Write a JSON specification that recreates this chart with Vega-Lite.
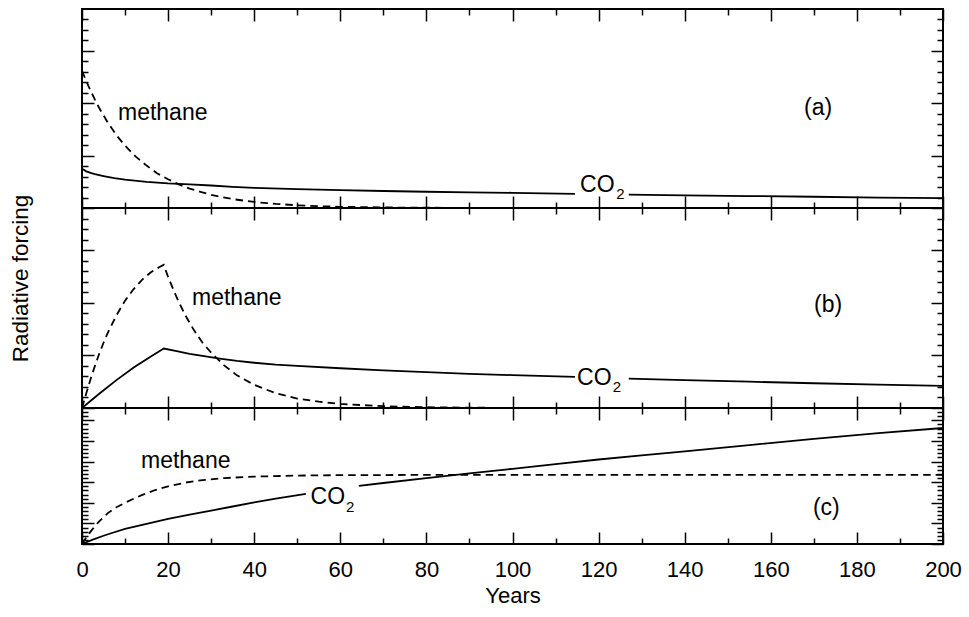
{
  "$schema": "https://vega.github.io/schema/vega-lite/v6.json",
  "background": "white",
  "padding": {"left": 8, "top": 7, "right": 4, "bottom": 4},
  "spacing": 0,
  "bounds": "flush",
  "config": {
    "view": {"stroke": "black", "strokeWidth": 2},
    "font": "Liberation Sans",
    "axis": {"domain": false, "grid": false, "tickColor": "black", "tickWidth": 1.5, "labelFont": "Liberation Sans", "labelFontSize": 22, "labelColor": "black", "titleFont": "Liberation Sans", "titleFontSize": 22, "titleFontWeight": "normal", "titleColor": "black", "labelFlush": false, "labelOverlap": false},
    "text": {"font": "Liberation Sans", "fill": "black"},
    "line": {"stroke": "black", "strokeWidth": 1.8}
  },
  "datasets": {
    "series": [
      {"panel":"a","gas":"methane","seg":1,"year":0,"value":2.62},
      {"panel":"a","gas":"methane","seg":1,"year":1,"value":2.42},
      {"panel":"a","gas":"methane","seg":1,"year":2,"value":2.24},
      {"panel":"a","gas":"methane","seg":1,"year":3,"value":2.07},
      {"panel":"a","gas":"methane","seg":1,"year":4,"value":1.91},
      {"panel":"a","gas":"methane","seg":1,"year":5,"value":1.77},
      {"panel":"a","gas":"methane","seg":1,"year":6,"value":1.63},
      {"panel":"a","gas":"methane","seg":1,"year":8,"value":1.39},
      {"panel":"a","gas":"methane","seg":1,"year":10,"value":1.19},
      {"panel":"a","gas":"methane","seg":1,"year":12.5,"value":0.98},
      {"panel":"a","gas":"methane","seg":1,"year":15,"value":0.81},
      {"panel":"a","gas":"methane","seg":1,"year":17.5,"value":0.66},
      {"panel":"a","gas":"methane","seg":1,"year":20,"value":0.55},
      {"panel":"a","gas":"methane","seg":1,"year":22.5,"value":0.45},
      {"panel":"a","gas":"methane","seg":1,"year":25,"value":0.37},
      {"panel":"a","gas":"methane","seg":1,"year":27.5,"value":0.31},
      {"panel":"a","gas":"methane","seg":1,"year":30,"value":0.25},
      {"panel":"a","gas":"methane","seg":1,"year":35,"value":0.17},
      {"panel":"a","gas":"methane","seg":1,"year":40,"value":0.115},
      {"panel":"a","gas":"methane","seg":1,"year":45,"value":0.078},
      {"panel":"a","gas":"methane","seg":1,"year":50,"value":0.052},
      {"panel":"a","gas":"methane","seg":1,"year":55,"value":0.035},
      {"panel":"a","gas":"methane","seg":1,"year":60,"value":0.023},
      {"panel":"a","gas":"methane","seg":1,"year":70,"value":0.011},
      {"panel":"a","gas":"methane","seg":1,"year":80,"value":0.005},
      {"panel":"a","gas":"methane","seg":1,"year":100,"value":0.001},
      {"panel":"a","gas":"methane","seg":1,"year":150,"value":0},
      {"panel":"a","gas":"methane","seg":1,"year":200,"value":0},
      {"panel":"a","gas":"CO2","seg":1,"year":0,"value":0.75},
      {"panel":"a","gas":"CO2","seg":1,"year":1,"value":0.7},
      {"panel":"a","gas":"CO2","seg":1,"year":2,"value":0.67},
      {"panel":"a","gas":"CO2","seg":1,"year":3,"value":0.645},
      {"panel":"a","gas":"CO2","seg":1,"year":5,"value":0.61},
      {"panel":"a","gas":"CO2","seg":1,"year":7.5,"value":0.57},
      {"panel":"a","gas":"CO2","seg":1,"year":10,"value":0.54},
      {"panel":"a","gas":"CO2","seg":1,"year":15,"value":0.5},
      {"panel":"a","gas":"CO2","seg":1,"year":20,"value":0.47},
      {"panel":"a","gas":"CO2","seg":1,"year":25,"value":0.45},
      {"panel":"a","gas":"CO2","seg":1,"year":30,"value":0.43},
      {"panel":"a","gas":"CO2","seg":1,"year":35,"value":0.405},
      {"panel":"a","gas":"CO2","seg":1,"year":40,"value":0.385},
      {"panel":"a","gas":"CO2","seg":1,"year":50,"value":0.36},
      {"panel":"a","gas":"CO2","seg":1,"year":60,"value":0.34},
      {"panel":"a","gas":"CO2","seg":1,"year":70,"value":0.325},
      {"panel":"a","gas":"CO2","seg":1,"year":80,"value":0.31},
      {"panel":"a","gas":"CO2","seg":1,"year":90,"value":0.3},
      {"panel":"a","gas":"CO2","seg":1,"year":100,"value":0.29},
      {"panel":"a","gas":"CO2","seg":1,"year":114.5,"value":0.27},
      {"panel":"a","gas":"CO2","seg":2,"year":127,"value":0.255},
      {"panel":"a","gas":"CO2","seg":2,"year":140,"value":0.24},
      {"panel":"a","gas":"CO2","seg":2,"year":155,"value":0.228},
      {"panel":"a","gas":"CO2","seg":2,"year":170,"value":0.215},
      {"panel":"a","gas":"CO2","seg":2,"year":185,"value":0.2},
      {"panel":"a","gas":"CO2","seg":2,"year":200,"value":0.19},
      {"panel":"b","gas":"methane","seg":1,"year":0,"value":0},
      {"panel":"b","gas":"methane","seg":1,"year":1,"value":0.28},
      {"panel":"b","gas":"methane","seg":1,"year":2,"value":0.55},
      {"panel":"b","gas":"methane","seg":1,"year":3,"value":0.8},
      {"panel":"b","gas":"methane","seg":1,"year":4,"value":1.03},
      {"panel":"b","gas":"methane","seg":1,"year":5,"value":1.24},
      {"panel":"b","gas":"methane","seg":1,"year":6,"value":1.43},
      {"panel":"b","gas":"methane","seg":1,"year":8,"value":1.76},
      {"panel":"b","gas":"methane","seg":1,"year":10,"value":2.04},
      {"panel":"b","gas":"methane","seg":1,"year":12,"value":2.26},
      {"panel":"b","gas":"methane","seg":1,"year":14,"value":2.44},
      {"panel":"b","gas":"methane","seg":1,"year":16,"value":2.58},
      {"panel":"b","gas":"methane","seg":1,"year":18,"value":2.68},
      {"panel":"b","gas":"methane","seg":1,"year":19,"value":2.72},
      {"panel":"b","gas":"methane","seg":1,"year":20,"value":2.49},
      {"panel":"b","gas":"methane","seg":1,"year":22,"value":2.1},
      {"panel":"b","gas":"methane","seg":1,"year":24,"value":1.76},
      {"panel":"b","gas":"methane","seg":1,"year":26,"value":1.48},
      {"panel":"b","gas":"methane","seg":1,"year":28,"value":1.24},
      {"panel":"b","gas":"methane","seg":1,"year":30,"value":1.05},
      {"panel":"b","gas":"methane","seg":1,"year":33,"value":0.81},
      {"panel":"b","gas":"methane","seg":1,"year":36,"value":0.62},
      {"panel":"b","gas":"methane","seg":1,"year":40,"value":0.44},
      {"panel":"b","gas":"methane","seg":1,"year":45,"value":0.28},
      {"panel":"b","gas":"methane","seg":1,"year":50,"value":0.18},
      {"panel":"b","gas":"methane","seg":1,"year":55,"value":0.12},
      {"panel":"b","gas":"methane","seg":1,"year":60,"value":0.077},
      {"panel":"b","gas":"methane","seg":1,"year":70,"value":0.034},
      {"panel":"b","gas":"methane","seg":1,"year":80,"value":0.014},
      {"panel":"b","gas":"methane","seg":1,"year":90,"value":0.006},
      {"panel":"b","gas":"methane","seg":1,"year":100,"value":0.002},
      {"panel":"b","gas":"methane","seg":1,"year":120,"value":0},
      {"panel":"b","gas":"methane","seg":1,"year":200,"value":0},
      {"panel":"b","gas":"CO2","seg":1,"year":0,"value":0},
      {"panel":"b","gas":"CO2","seg":1,"year":4,"value":0.27},
      {"panel":"b","gas":"CO2","seg":1,"year":8,"value":0.53},
      {"panel":"b","gas":"CO2","seg":1,"year":12,"value":0.77},
      {"panel":"b","gas":"CO2","seg":1,"year":16,"value":0.98},
      {"panel":"b","gas":"CO2","seg":1,"year":19,"value":1.13},
      {"panel":"b","gas":"CO2","seg":1,"year":22,"value":1.08},
      {"panel":"b","gas":"CO2","seg":1,"year":25,"value":1.03},
      {"panel":"b","gas":"CO2","seg":1,"year":28,"value":0.99},
      {"panel":"b","gas":"CO2","seg":1,"year":32,"value":0.94},
      {"panel":"b","gas":"CO2","seg":1,"year":36,"value":0.895},
      {"panel":"b","gas":"CO2","seg":1,"year":40,"value":0.86},
      {"panel":"b","gas":"CO2","seg":1,"year":45,"value":0.825},
      {"panel":"b","gas":"CO2","seg":1,"year":50,"value":0.8},
      {"panel":"b","gas":"CO2","seg":1,"year":60,"value":0.755},
      {"panel":"b","gas":"CO2","seg":1,"year":70,"value":0.715},
      {"panel":"b","gas":"CO2","seg":1,"year":80,"value":0.68},
      {"panel":"b","gas":"CO2","seg":1,"year":90,"value":0.65},
      {"panel":"b","gas":"CO2","seg":1,"year":100,"value":0.625},
      {"panel":"b","gas":"CO2","seg":1,"year":114.5,"value":0.59},
      {"panel":"b","gas":"CO2","seg":2,"year":127,"value":0.56},
      {"panel":"b","gas":"CO2","seg":2,"year":140,"value":0.53},
      {"panel":"b","gas":"CO2","seg":2,"year":155,"value":0.5},
      {"panel":"b","gas":"CO2","seg":2,"year":170,"value":0.47},
      {"panel":"b","gas":"CO2","seg":2,"year":185,"value":0.445},
      {"panel":"b","gas":"CO2","seg":2,"year":200,"value":0.42},
      {"panel":"c","gas":"methane","seg":1,"year":0,"value":0},
      {"panel":"c","gas":"methane","seg":1,"year":1,"value":0.32},
      {"panel":"c","gas":"methane","seg":1,"year":2,"value":0.6},
      {"panel":"c","gas":"methane","seg":1,"year":3,"value":0.87},
      {"panel":"c","gas":"methane","seg":1,"year":4,"value":1.1},
      {"panel":"c","gas":"methane","seg":1,"year":6,"value":1.5},
      {"panel":"c","gas":"methane","seg":1,"year":8,"value":1.78},
      {"panel":"c","gas":"methane","seg":1,"year":10,"value":2.0},
      {"panel":"c","gas":"methane","seg":1,"year":12,"value":2.2},
      {"panel":"c","gas":"methane","seg":1,"year":14,"value":2.38},
      {"panel":"c","gas":"methane","seg":1,"year":17,"value":2.62},
      {"panel":"c","gas":"methane","seg":1,"year":20,"value":2.8},
      {"panel":"c","gas":"methane","seg":1,"year":24,"value":2.98},
      {"panel":"c","gas":"methane","seg":1,"year":28,"value":3.1},
      {"panel":"c","gas":"methane","seg":1,"year":33,"value":3.2},
      {"panel":"c","gas":"methane","seg":1,"year":40,"value":3.27},
      {"panel":"c","gas":"methane","seg":1,"year":50,"value":3.32},
      {"panel":"c","gas":"methane","seg":1,"year":60,"value":3.34},
      {"panel":"c","gas":"methane","seg":1,"year":75,"value":3.35},
      {"panel":"c","gas":"methane","seg":1,"year":200,"value":3.35},
      {"panel":"c","gas":"CO2","seg":1,"year":0,"value":0},
      {"panel":"c","gas":"CO2","seg":1,"year":2.5,"value":0.21},
      {"panel":"c","gas":"CO2","seg":1,"year":5,"value":0.4},
      {"panel":"c","gas":"CO2","seg":1,"year":7.5,"value":0.57},
      {"panel":"c","gas":"CO2","seg":1,"year":10,"value":0.73},
      {"panel":"c","gas":"CO2","seg":1,"year":15,"value":0.98},
      {"panel":"c","gas":"CO2","seg":1,"year":20,"value":1.22},
      {"panel":"c","gas":"CO2","seg":1,"year":25,"value":1.42},
      {"panel":"c","gas":"CO2","seg":1,"year":30,"value":1.62},
      {"panel":"c","gas":"CO2","seg":1,"year":35,"value":1.82},
      {"panel":"c","gas":"CO2","seg":1,"year":40,"value":2.02},
      {"panel":"c","gas":"CO2","seg":1,"year":45,"value":2.2},
      {"panel":"c","gas":"CO2","seg":1,"year":52,"value":2.43},
      {"panel":"c","gas":"CO2","seg":2,"year":64.3,"value":2.82},
      {"panel":"c","gas":"CO2","seg":2,"year":70,"value":2.96},
      {"panel":"c","gas":"CO2","seg":2,"year":80,"value":3.2},
      {"panel":"c","gas":"CO2","seg":2,"year":90,"value":3.43},
      {"panel":"c","gas":"CO2","seg":2,"year":100,"value":3.65},
      {"panel":"c","gas":"CO2","seg":2,"year":110,"value":3.88},
      {"panel":"c","gas":"CO2","seg":2,"year":120,"value":4.1},
      {"panel":"c","gas":"CO2","seg":2,"year":130,"value":4.3},
      {"panel":"c","gas":"CO2","seg":2,"year":140,"value":4.5},
      {"panel":"c","gas":"CO2","seg":2,"year":155,"value":4.8},
      {"panel":"c","gas":"CO2","seg":2,"year":170,"value":5.1},
      {"panel":"c","gas":"CO2","seg":2,"year":185,"value":5.38},
      {"panel":"c","gas":"CO2","seg":2,"year":200,"value":5.63}
    ],
    "labels": [
      {"panel":"a","kind":"methane","text":"methane","year":8.36,"value":1.68},
      {"panel":"a","kind":"co","text":"CO","year":115.7,"value":0.306},
      {"panel":"a","kind":"sub","text":"2","year":124.1,"value":0.172},
      {"panel":"a","kind":"letter","text":"(a)","year":171,"value":1.77},
      {"panel":"b","kind":"methane","text":"methane","year":25.55,"value":1.95},
      {"panel":"b","kind":"co","text":"CO","year":115,"value":0.44},
      {"panel":"b","kind":"sub","text":"2","year":123.3,"value":0.31},
      {"panel":"b","kind":"letter","text":"(b)","year":173.3,"value":1.82},
      {"panel":"c","kind":"methane","text":"methane","year":13.7,"value":3.69},
      {"panel":"c","kind":"co","text":"CO","year":53.1,"value":1.94},
      {"panel":"c","kind":"sub","text":"2","year":61.3,"value":1.55},
      {"panel":"c","kind":"letter","text":"(c)","year":172.9,"value":1.43}
    ]
  },
  "vconcat": [
    {
      "width": 861, "height": 199,
      "resolve": {"axis": {"x": "independent", "y": "independent"}},
      "layer": [
        {
          "data": {"name": "series"},
          "transform": [{"filter": "datum.panel === 'a' && datum.gas === 'methane'"}],
          "mark": {"type": "line", "strokeDash": [7.5, 5]},
          "encoding": {
            "x": {"field": "year", "type": "quantitative", "scale": {"domain": [0, 200], "nice": false, "zero": false}, "axis": {"orient": "bottom", "values": [0,20,40,60,80,100,120,140,160,180,200], "tickSize": -12, "labels": false, "title": null}},
            "y": {"field": "value", "type": "quantitative", "scale": {"domain": [0, 3.8], "nice": false, "zero": false}, "axis": {"orient": "left", "values": [0,1,2,3], "tickSize": -12, "labels": false, "title": null}}
          }
        },
        {
          "data": {"name": "series"},
          "transform": [{"filter": "datum.panel === 'a' && datum.gas === 'CO2'"}],
          "mark": {"type": "line"},
          "encoding": {
            "x": {"field": "year", "type": "quantitative", "scale": {"domain": [0, 200], "nice": false, "zero": false}, "axis": {"orient": "bottom", "values": [10,30,50,70,90,110,130,150,170,190], "tickSize": -6, "labels": false, "title": null}},
            "y": {"field": "value", "type": "quantitative", "scale": {"domain": [0, 3.8], "nice": false, "zero": false}, "axis": {"orient": "left", "values": [0.2,0.4,0.6,0.8,1.2,1.4,1.6,1.8,2.2,2.4,2.6,2.8,3.2,3.4,3.6], "tickSize": -6, "labels": false, "title": null}},
            "detail": {"field": "seg", "type": "nominal"}
          }
        },
        {
          "data": {"name": "labels"},
          "transform": [{"filter": "datum.panel === 'a' && datum.kind === 'methane'"}],
          "mark": {"type": "text", "align": "left", "baseline": "alphabetic", "fontSize": 23},
          "encoding": {
            "x": {"field": "year", "type": "quantitative", "scale": {"domain": [0, 200], "nice": false, "zero": false}, "axis": {"orient": "top", "values": [0,20,40,60,80,100,120,140,160,180,200], "tickSize": -12, "labels": false, "title": null}},
            "y": {"field": "value", "type": "quantitative", "scale": {"domain": [0, 3.8], "nice": false, "zero": false}, "axis": {"orient": "right", "values": [0,1,2,3], "tickSize": -12, "labels": false, "title": null}},
            "text": {"field": "text"}
          }
        },
        {
          "data": {"name": "labels"},
          "transform": [{"filter": "datum.panel === 'a' && datum.kind === 'co'"}],
          "mark": {"type": "text", "align": "left", "baseline": "alphabetic", "fontSize": 23},
          "encoding": {
            "x": {"field": "year", "type": "quantitative", "scale": {"domain": [0, 200], "nice": false, "zero": false}, "axis": {"orient": "top", "values": [10,30,50,70,90,110,130,150,170,190], "tickSize": -6, "labels": false, "title": null}},
            "y": {"field": "value", "type": "quantitative", "scale": {"domain": [0, 3.8], "nice": false, "zero": false}, "axis": {"orient": "right", "values": [0.2,0.4,0.6,0.8,1.2,1.4,1.6,1.8,2.2,2.4,2.6,2.8,3.2,3.4,3.6], "tickSize": -6, "labels": false, "title": null}},
            "text": {"field": "text"}
          }
        },
        {
          "data": {"name": "labels"},
          "transform": [{"filter": "datum.panel === 'a' && datum.kind === 'sub'"}],
          "mark": {"type": "text", "align": "left", "baseline": "alphabetic", "fontSize": 15},
          "encoding": {
            "x": {"field": "year", "type": "quantitative", "scale": {"domain": [0, 200], "nice": false, "zero": false}, "axis": null},
            "y": {"field": "value", "type": "quantitative", "scale": {"domain": [0, 3.8], "nice": false, "zero": false}, "axis": null},
            "text": {"field": "text"}
          }
        },
        {
          "data": {"name": "labels"},
          "transform": [{"filter": "datum.panel === 'a' && datum.kind === 'letter'"}],
          "mark": {"type": "text", "align": "center", "baseline": "alphabetic", "fontSize": 23},
          "encoding": {
            "x": {"field": "year", "type": "quantitative", "scale": {"domain": [0, 200], "nice": false, "zero": false}, "axis": null},
            "y": {"field": "value", "type": "quantitative", "scale": {"domain": [0, 3.8], "nice": false, "zero": false}, "axis": null},
            "text": {"field": "text"}
          }
        }
      ]
    },
    {
      "width": 861, "height": 200,
      "resolve": {"axis": {"x": "independent", "y": "independent"}},
      "layer": [
        {
          "data": {"name": "series"},
          "transform": [{"filter": "datum.panel === 'b' && datum.gas === 'methane'"}],
          "mark": {"type": "line", "strokeDash": [7.5, 5]},
          "encoding": {
            "x": {"field": "year", "type": "quantitative", "scale": {"domain": [0, 200], "nice": false, "zero": false}, "axis": {"orient": "bottom", "values": [0,20,40,60,80,100,120,140,160,180,200], "tickSize": -12, "labels": false, "title": null}},
            "y": {"field": "value", "type": "quantitative", "scale": {"domain": [0, 3.8], "nice": false, "zero": false}, "axis": {"orient": "left", "values": [0,1,2,3], "tickSize": -12, "labels": false, "title": "Radiative forcing", "titleX": -55, "titleY": 70, "titleAngle": 270, "titleBaseline": "alphabetic", "titleAlign": "center", "titleFontSize": 22.5}}
          }
        },
        {
          "data": {"name": "series"},
          "transform": [{"filter": "datum.panel === 'b' && datum.gas === 'CO2'"}],
          "mark": {"type": "line"},
          "encoding": {
            "x": {"field": "year", "type": "quantitative", "scale": {"domain": [0, 200], "nice": false, "zero": false}, "axis": {"orient": "bottom", "values": [10,30,50,70,90,110,130,150,170,190], "tickSize": -6, "labels": false, "title": null}},
            "y": {"field": "value", "type": "quantitative", "scale": {"domain": [0, 3.8], "nice": false, "zero": false}, "axis": {"orient": "left", "values": [0.2,0.4,0.6,0.8,1.2,1.4,1.6,1.8,2.2,2.4,2.6,2.8,3.2,3.4,3.6], "tickSize": -6, "labels": false, "title": null}},
            "detail": {"field": "seg", "type": "nominal"}
          }
        },
        {
          "data": {"name": "labels"},
          "transform": [{"filter": "datum.panel === 'b' && datum.kind === 'methane'"}],
          "mark": {"type": "text", "align": "left", "baseline": "alphabetic", "fontSize": 23},
          "encoding": {
            "x": {"field": "year", "type": "quantitative", "scale": {"domain": [0, 200], "nice": false, "zero": false}, "axis": {"orient": "top", "values": [0,20,40,60,80,100,120,140,160,180,200], "tickSize": -12, "labels": false, "title": null}},
            "y": {"field": "value", "type": "quantitative", "scale": {"domain": [0, 3.8], "nice": false, "zero": false}, "axis": {"orient": "right", "values": [0,1,2,3], "tickSize": -12, "labels": false, "title": null}},
            "text": {"field": "text"}
          }
        },
        {
          "data": {"name": "labels"},
          "transform": [{"filter": "datum.panel === 'b' && datum.kind === 'co'"}],
          "mark": {"type": "text", "align": "left", "baseline": "alphabetic", "fontSize": 23},
          "encoding": {
            "x": {"field": "year", "type": "quantitative", "scale": {"domain": [0, 200], "nice": false, "zero": false}, "axis": {"orient": "top", "values": [10,30,50,70,90,110,130,150,170,190], "tickSize": -6, "labels": false, "title": null}},
            "y": {"field": "value", "type": "quantitative", "scale": {"domain": [0, 3.8], "nice": false, "zero": false}, "axis": {"orient": "right", "values": [0.2,0.4,0.6,0.8,1.2,1.4,1.6,1.8,2.2,2.4,2.6,2.8,3.2,3.4,3.6], "tickSize": -6, "labels": false, "title": null}},
            "text": {"field": "text"}
          }
        },
        {
          "data": {"name": "labels"},
          "transform": [{"filter": "datum.panel === 'b' && datum.kind === 'sub'"}],
          "mark": {"type": "text", "align": "left", "baseline": "alphabetic", "fontSize": 15},
          "encoding": {
            "x": {"field": "year", "type": "quantitative", "scale": {"domain": [0, 200], "nice": false, "zero": false}, "axis": null},
            "y": {"field": "value", "type": "quantitative", "scale": {"domain": [0, 3.8], "nice": false, "zero": false}, "axis": null},
            "text": {"field": "text"}
          }
        },
        {
          "data": {"name": "labels"},
          "transform": [{"filter": "datum.panel === 'b' && datum.kind === 'letter'"}],
          "mark": {"type": "text", "align": "center", "baseline": "alphabetic", "fontSize": 23},
          "encoding": {
            "x": {"field": "year", "type": "quantitative", "scale": {"domain": [0, 200], "nice": false, "zero": false}, "axis": null},
            "y": {"field": "value", "type": "quantitative", "scale": {"domain": [0, 3.8], "nice": false, "zero": false}, "axis": null},
            "text": {"field": "text"}
          }
        }
      ]
    },
    {
      "width": 861, "height": 136,
      "resolve": {"axis": {"x": "independent", "y": "independent"}},
      "layer": [
        {
          "data": {"name": "series"},
          "transform": [{"filter": "datum.panel === 'c' && datum.gas === 'methane'"}],
          "mark": {"type": "line", "strokeDash": [7.5, 5]},
          "encoding": {
            "x": {"field": "year", "type": "quantitative", "scale": {"domain": [0, 200], "nice": false, "zero": false}, "axis": {"orient": "bottom", "values": [0,20,40,60,80,100,120,140,160,180,200], "tickSize": -12, "labels": true, "labelPadding": 27, "labelBaseline": "top", "title": "Years", "titleY": 58, "titleBaseline": "alphabetic"}},
            "y": {"field": "value", "type": "quantitative", "scale": {"domain": [0, 6.6], "nice": false, "zero": false}, "axis": {"orient": "left", "values": [0,1,2,3,4,5,6], "tickSize": -12, "labels": false, "title": null}}
          }
        },
        {
          "data": {"name": "series"},
          "transform": [{"filter": "datum.panel === 'c' && datum.gas === 'CO2'"}],
          "mark": {"type": "line"},
          "encoding": {
            "x": {"field": "year", "type": "quantitative", "scale": {"domain": [0, 200], "nice": false, "zero": false}, "axis": {"orient": "bottom", "values": [10,30,50,70,90,110,130,150,170,190], "tickSize": -6, "labels": false, "title": null}},
            "y": {"field": "value", "type": "quantitative", "scale": {"domain": [0, 6.6], "nice": false, "zero": false}, "axis": {"orient": "left", "values": [0.2,0.4,0.6,0.8,1.2,1.4,1.6,1.8,2.2,2.4,2.6,2.8,3.2,3.4,3.6,3.8,4.2,4.4,4.6,4.8,5.2,5.4,5.6,5.8,6.2,6.4], "tickSize": -6, "labels": false, "title": null}},
            "detail": {"field": "seg", "type": "nominal"}
          }
        },
        {
          "data": {"name": "labels"},
          "transform": [{"filter": "datum.panel === 'c' && datum.kind === 'methane'"}],
          "mark": {"type": "text", "align": "left", "baseline": "alphabetic", "fontSize": 23},
          "encoding": {
            "x": {"field": "year", "type": "quantitative", "scale": {"domain": [0, 200], "nice": false, "zero": false}, "axis": {"orient": "top", "values": [0,20,40,60,80,100,120,140,160,180,200], "tickSize": -12, "labels": false, "title": null}},
            "y": {"field": "value", "type": "quantitative", "scale": {"domain": [0, 6.6], "nice": false, "zero": false}, "axis": {"orient": "right", "values": [0,1,2,3,4,5,6], "tickSize": -12, "labels": false, "title": null}},
            "text": {"field": "text"}
          }
        },
        {
          "data": {"name": "labels"},
          "transform": [{"filter": "datum.panel === 'c' && datum.kind === 'co'"}],
          "mark": {"type": "text", "align": "left", "baseline": "alphabetic", "fontSize": 23},
          "encoding": {
            "x": {"field": "year", "type": "quantitative", "scale": {"domain": [0, 200], "nice": false, "zero": false}, "axis": {"orient": "top", "values": [10,30,50,70,90,110,130,150,170,190], "tickSize": -6, "labels": false, "title": null}},
            "y": {"field": "value", "type": "quantitative", "scale": {"domain": [0, 6.6], "nice": false, "zero": false}, "axis": {"orient": "right", "values": [0.2,0.4,0.6,0.8,1.2,1.4,1.6,1.8,2.2,2.4,2.6,2.8,3.2,3.4,3.6,3.8,4.2,4.4,4.6,4.8,5.2,5.4,5.6,5.8,6.2,6.4], "tickSize": -6, "labels": false, "title": null}},
            "text": {"field": "text"}
          }
        },
        {
          "data": {"name": "labels"},
          "transform": [{"filter": "datum.panel === 'c' && datum.kind === 'sub'"}],
          "mark": {"type": "text", "align": "left", "baseline": "alphabetic", "fontSize": 15},
          "encoding": {
            "x": {"field": "year", "type": "quantitative", "scale": {"domain": [0, 200], "nice": false, "zero": false}, "axis": null},
            "y": {"field": "value", "type": "quantitative", "scale": {"domain": [0, 6.6], "nice": false, "zero": false}, "axis": null},
            "text": {"field": "text"}
          }
        },
        {
          "data": {"name": "labels"},
          "transform": [{"filter": "datum.panel === 'c' && datum.kind === 'letter'"}],
          "mark": {"type": "text", "align": "center", "baseline": "alphabetic", "fontSize": 23},
          "encoding": {
            "x": {"field": "year", "type": "quantitative", "scale": {"domain": [0, 200], "nice": false, "zero": false}, "axis": null},
            "y": {"field": "value", "type": "quantitative", "scale": {"domain": [0, 6.6], "nice": false, "zero": false}, "axis": null},
            "text": {"field": "text"}
          }
        }
      ]
    }
  ]
}
